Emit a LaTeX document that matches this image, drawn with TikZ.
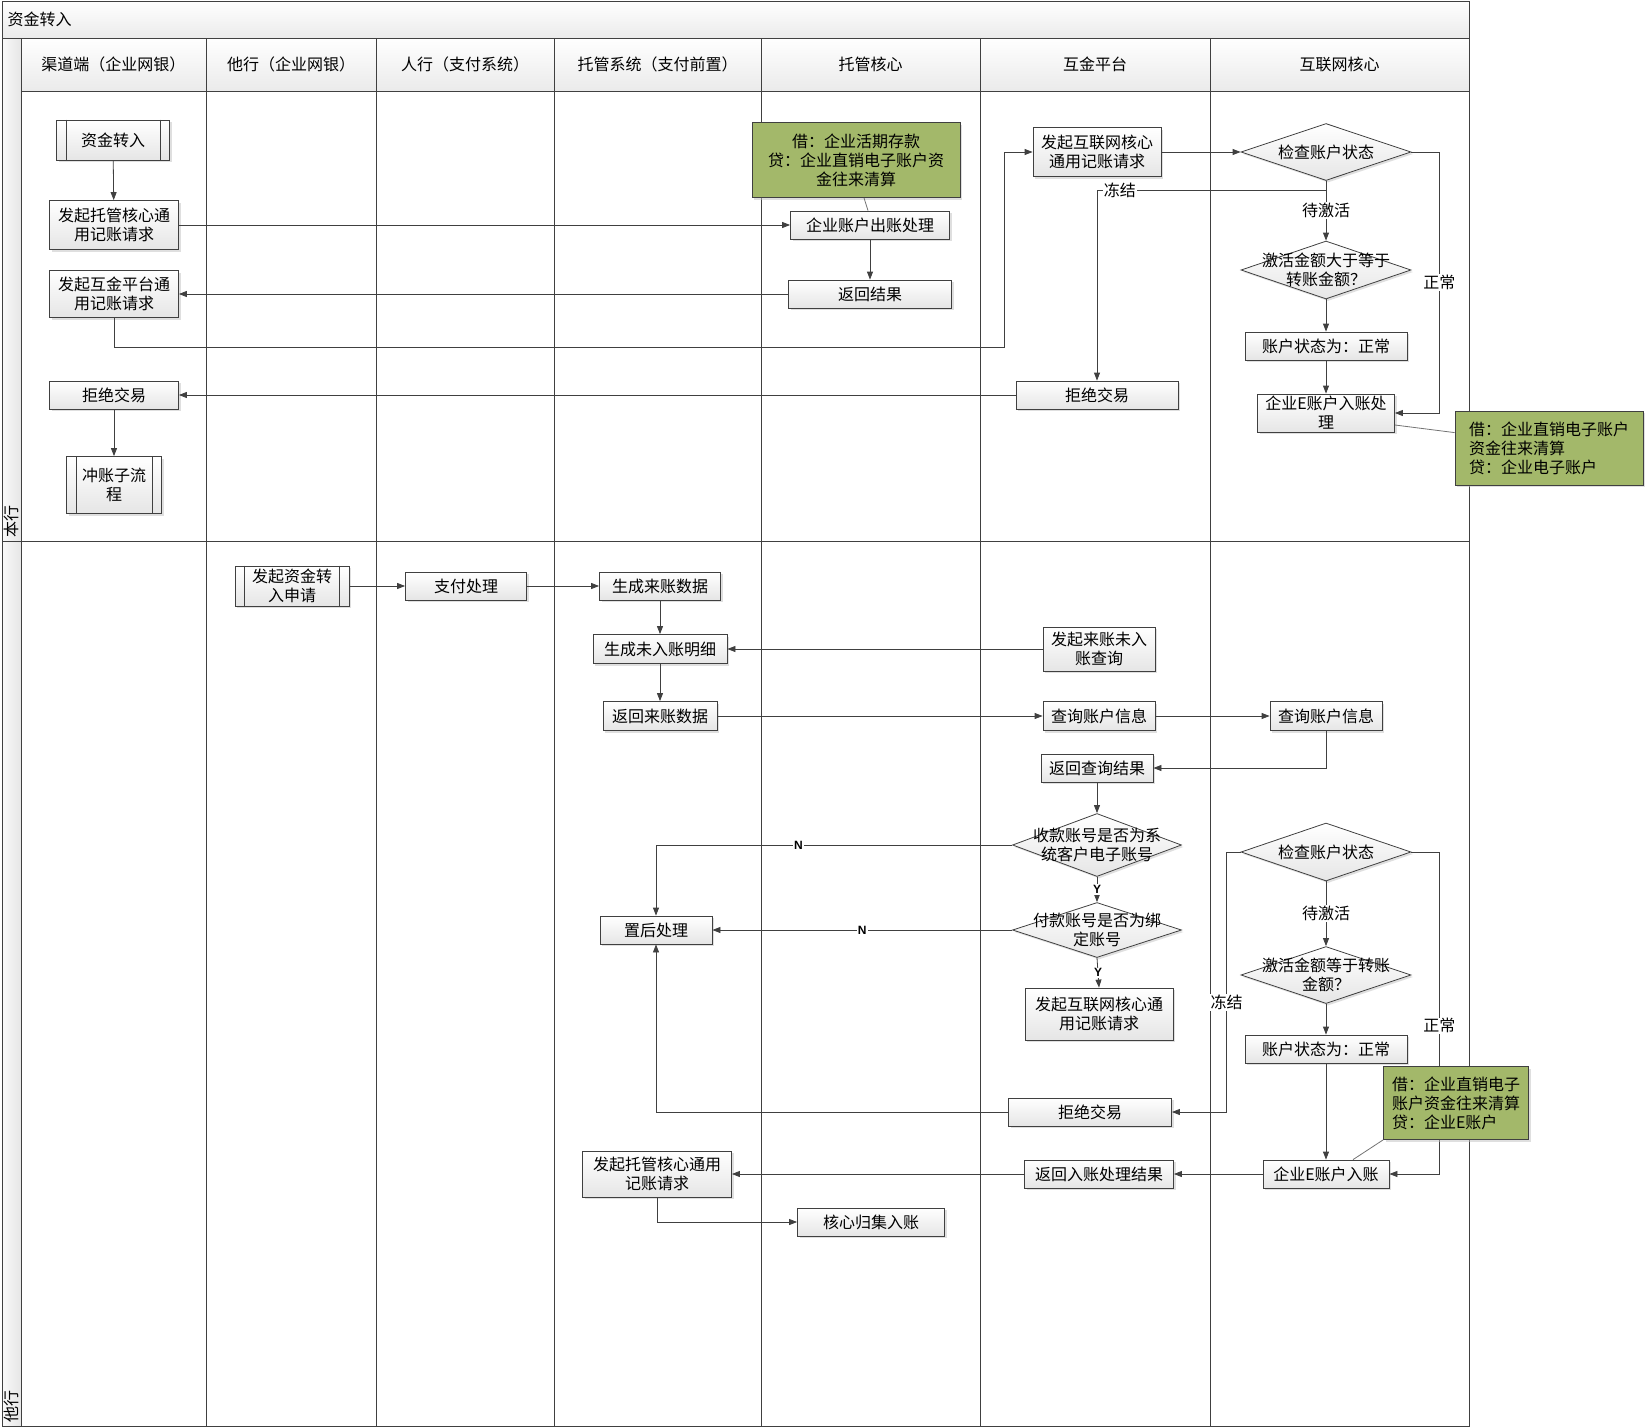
\documentclass[tikz,border=0pt]{standalone}
\usepackage{fontspec}
\setmainfont{Noto Sans CJK SC}
\newfontfamily\ynfont{Liberation Sans}
\usetikzlibrary{arrows.meta,shapes.geometric,shadows}
\definecolor{notegreen}{RGB}{163,184,106}
\definecolor{linegray}{RGB}{64,64,64}
\tikzset{
    sz/.style 2 args={minimum width=#1pt, minimum height=#2pt},
    box/.style={draw=linegray, top color=white, bottom color=black!10, align=center, inner sep=1pt,
        drop shadow={shadow xshift=2pt, shadow yshift=-2pt, fill=black!25}},
    dec/.style={box, diamond, inner sep=0pt},
    note/.style={draw=linegray, fill=notegreen, inner sep=4pt,
        drop shadow={shadow xshift=2pt, shadow yshift=-2pt, fill=black!25}},
    frame/.style={draw=linegray, line width=1pt},
    ar/.style={->, draw=linegray},
    link/.style={draw=black!55},
    lab/.style={fill=white, inner sep=1pt},
    yn/.style={font=\ynfont\bfseries\fontsize{12}{14}\selectfont, fill=white, inner sep=1pt},
}

\begin{document}
\begin{tikzpicture}[x=1pt, y=-1pt, line width=0.8pt, >={Triangle[length=8pt,width=6pt]},
        font=\fontsize{16}{19}\selectfont]
    \useasboundingbox (0,0) rectangle (1647,1427);
    % pool
    \shade[top color=white, bottom color=black!8] (2,1) rectangle (1469,38);
    \shade[top color=white, bottom color=black!8] (21,38) rectangle (1469,91);
    \shade[left color=black!2, right color=black!10] (2,38) rectangle (21,1426);
    \draw[frame] (2,1) rectangle (1469,1426);
    \draw[frame] (2,38) -- (1469,38);
    \draw[frame] (21,91) -- (1469,91);
    \draw[frame] (2,541) -- (1469,541);
    \foreach \x in {21,206,376,554,761,980,1210}
        \draw[frame] (\x,38) -- (\x,1426);
    \node[anchor=west] (title) at (4,19) {资金转入};
    \foreach \x/\t [count=\i] in {113.5/渠道端（企业网银）, 291/他行（企业网银）, 465/人行（支付系统）,
            657.5/托管系统（支付前置）, 870.5/托管核心, 1095/互金平台, 1339.5/互联网核心}
        \node (hd\i) at (\x,64) {\t};
    \node[rotate=90, anchor=west, inner sep=1pt] (bh) at (11,539) {本行};
    \node[rotate=90, anchor=west, inner sep=1pt] (th) at (11,1424) {他行};

    % 本行
    \node[box, sz={113}{40}] (zjzr) at (113,140) {资金转入};
    \node[box, sz={129}{49}] (fqtg) at (114,225) {发起托管核心通\\用记账请求};
    \node[box, sz={129}{47}] (fqhj) at (114,294) {发起互金平台通\\用记账请求};
    \node[box, sz={129}{28}] (jjjy1) at (114,395) {拒绝交易};
    \node[box, sz={95}{57}] (czz) at (114,485) {冲账子流\\程};
    \node[box, sz={159}{28}] (ckcl) at (870,225) {企业账户出账处理};
    \node[box, sz={163}{28}] (fhjg) at (870,294) {返回结果};
    \node[box, sz={128}{49}] (fqhl) at (1097,152) {发起互联网核心\\通用记账请求};
    \node[box, sz={162}{28}] (jjjy2) at (1097,395) {拒绝交易};
    \node[dec, sz={170}{57}, label={center:检查账户状态}] (ckzt1) at (1326,152) {};
    \node[dec, sz={170}{58}, label={[align=center]center:激活金额大于等于\\转账金额？}] (ckzt2) at (1326,270) {};
    \node[box, sz={162}{28}] (zc1) at (1326,346) {账户状态为：正常};
    \node[box, sz={137}{38}] (rzcl) at (1326,413) {企业E账户入账处\\理};
    \node[note, sz={208}{75}, align=center] (note1) at (856,160) {借：企业活期存款\\贷：企业直销电子账户资\\金往来清算};
    \node[note, sz={188}{74}, align=left] (note2) at (1549,448) {借：企业直销电子账户\\资金往来清算\\贷：企业电子账户};

    % 他行
    \node[box, sz={114}{40}] (fqzr) at (292,586) {发起资金转\\入申请};
    \node[box, sz={121}{28}] (zfcl) at (466,586) {支付处理};
    \node[box, sz={121}{28}] (sclz) at (660,586) {生成来账数据};
    \node[box, sz={134}{29}] (wrmx) at (660,649) {生成未入账明细};
    \node[box, sz={114}{29}] (fhlz) at (660,716) {返回来账数据};
    \node[box, sz={112}{28}] (zhcl) at (656,930) {置后处理};
    \node[box, sz={149}{46}] (fqtg2) at (657,1174) {发起托管核心通用\\记账请求};
    \node[box, sz={147}{28}] (hjrz) at (871,1222) {核心归集入账};
    \node[box, sz={112}{44}] (fqcx) at (1099,649) {发起来账未入\\账查询};
    \node[box, sz={112}{29}] (cxhj) at (1099,716) {查询账户信息};
    \node[box, sz={112}{29}] (cxhl) at (1326,716) {查询账户信息};
    \node[box, sz={112}{28}] (fhcx) at (1097,768) {返回查询结果};
    \node[dec, sz={169}{63}, label={[align=center]center:收款账号是否为系\\统客户电子账号}] (pd1) at (1097,845) {};
    \node[dec, sz={169}{55}, label={[align=center]center:付款账号是否为绑\\定账号}] (pd2) at (1097,930) {};
    \node[box, sz={148}{52}] (fqhl2) at (1099,1014) {发起互联网核心通\\用记账请求};
    \node[box, sz={163}{28}] (jjjy3) at (1090,1112) {拒绝交易};
    \node[box, sz={149}{28}] (fhrz) at (1099,1174) {返回入账处理结果};
    \node[dec, sz={170}{58}, label={center:检查账户状态}] (ckzt3) at (1326,852) {};
    \node[dec, sz={170}{57}, label={[align=center]center:激活金额等于转账\\金额？}] (ckzt4) at (1326,975) {};
    \node[box, sz={162}{28}] (zc2) at (1326,1049) {账户状态为：正常};
    \node[box, sz={126}{28}] (rz) at (1326,1174) {企业E账户入账};

    \foreach \n in {zjzr,czz,fqzr} {
        \draw[linegray] ([xshift=10pt]\n.north west) -- ([xshift=10pt]\n.south west);
        \draw[linegray] ([xshift=-10pt]\n.north east) -- ([xshift=-10pt]\n.south east);
    }

    % 本行 connectors
    \coordinate (zz1) at (1004,347);
    \draw[ar] (zjzr) -- (fqtg);
    \draw[ar] (fqtg.east) -- (ckcl.west);
    \draw[ar] (ckcl) -- (fhjg);
    \draw[ar] (fhjg.west) -- (fqhj.east);
    \draw[ar] (fqhj.south) |- (zz1) |- (fqhl.west);
    \draw[ar] (fqhl.east) -- (ckzt1.west);
    \draw[ar] (ckzt1.east) -- ++(28,0) |- (rzcl.east) node[pos=0.25, lab] {正常};
    \draw[ar] (ckzt1.south) -- (ckzt2.north) node[midway, lab] {待激活};
    \draw[ar] ([yshift=-9pt]ckzt1.south) -| (jjjy2.north) node[pos=0.45, lab] {冻结};
    \draw[ar] (ckzt2) -- (zc1);
    \draw[ar] (zc1) -- (rzcl);
    \draw[ar] (jjjy2.west) -- (jjjy1.east);
    \draw[ar] (jjjy1) -- (czz);
    \draw[link] ([xshift=8pt]note1.south) -- ([xshift=-2pt]ckcl.north);
    \draw[link] ([yshift=-12pt]rzcl.east) -- ([yshift=-22pt]note2.north west);

    % 他行 connectors
    \draw[ar] (fqzr.east) -- (zfcl.west);
    \draw[ar] (zfcl) -- (sclz);
    \draw[ar] (sclz) -- (wrmx);
    \draw[ar] (wrmx) -- (fhlz);
    \draw[ar] (fqcx.west) -- (wrmx.east);
    \draw[ar] (fhlz) -- (cxhj);
    \draw[ar] (cxhj) -- (cxhl);
    \draw[ar] (cxhl.south) |- (fhcx.east);
    \draw[ar] (fhcx) -- (pd1);
    \draw[ar] (pd1.west) -| (zhcl.north) node[pos=0.3, yn] {N};
    \draw[ar] (pd1.south) -- (pd2.north) node[midway, yn] {Y};
    \draw[ar] (pd2.west) -- (zhcl.east) node[midway, yn] {N};
    \draw[ar] (pd2.south) -- (fqhl2.north) node[midway, yn] {Y};
    \draw[ar] (ckzt3.west) -- ++(-14,0) |- (jjjy3.east) node[pos=0.29, lab] {冻结};
    \draw[ar] (jjjy3.west) -| (zhcl.south);
    \draw[ar] (ckzt3.east) -- ++(28,0) |- (rz.east) node[pos=0.27, lab] {正常};
    \draw[ar] (ckzt3) -- (ckzt4) node[midway, lab] {待激活};
    \draw[ar] (ckzt4) -- (zc2);
    \draw[ar] (zc2) -- (rz);
    \draw[ar] (rz) -- (fhrz);
    \draw[ar] (fhrz) -- (fqtg2);
    \draw[ar] (fqtg2.south) |- (hjrz.west);

    \node[note, sz={145}{73}, align=left] (note3) at (1456,1103) {借：企业直销电子\\账户资金往来清算\\贷：企业E账户};
    \draw[link] (note3.south west) -- ([xshift=27pt]rz.north);
\end{tikzpicture}
\end{document}
